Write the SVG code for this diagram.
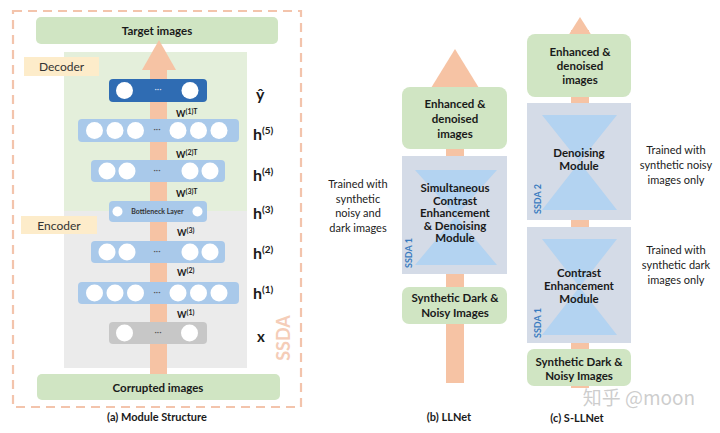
<svg xmlns="http://www.w3.org/2000/svg" width="720" height="433" viewBox="0 0 720 433">
<defs>
<style>
text{font-family:Lato,"Open Sans","Liberation Sans",sans-serif;fill:#1a1a1a}
.g{fill:#d0e5c3}
.lb{fill:#a9c9ea}
.c{fill:#ffffff}
.arr{fill:#f6c3a4}
.ss{fill:#d4dbe7}
.hg{fill:#b3d3f1}
.dots{font-size:9px;fill:#555;text-anchor:middle}
.w{font-size:9px;font-weight:bold}
.hl{font-size:16px;font-weight:bold}
.box{font-size:11.5px;font-weight:bold;text-anchor:middle}
.tr{font-size:11px;text-anchor:middle;fill:#222}
.cap{font-size:11px;font-weight:bold;text-anchor:middle}
.sv{font-size:9px;font-weight:bold;fill:#3a7cc0}
</style>
</defs>
<rect width="720" height="433" fill="#ffffff"/>

<!-- (a) Module Structure -->
<g id="panel-a">
<rect x="13" y="11" width="288" height="396" fill="none" stroke="#f3c4ac" stroke-width="2.2" stroke-dasharray="9 6"/>
<rect x="64" y="52" width="183" height="159" fill="#e4efdb"/>
<rect x="64" y="211" width="183" height="157" fill="#ebebeb"/>
<text x="290" y="338" transform="rotate(-90 290 338)" text-anchor="middle" style="font-size:18px;font-weight:bold;fill:#f5cdb8">SSDA</text>
</g>
<g id="target">
<rect class="g" x="36" y="17" width="242" height="27" rx="5"/>
<text class="box" x="157" y="35">Target images</text>
</g>
<g id="corrupted">
<rect class="g" x="37" y="374" width="243" height="26" rx="5"/>
<text class="box" x="158" y="391.5">Corrupted images</text>
</g>
<g id="decoder-label">
<rect x="24" y="57" width="75" height="19" fill="#fdecca"/>
<text x="61.5" y="71" text-anchor="middle" style="font-size:12px;fill:#333">Decoder</text>
</g>
<g id="encoder-label">
<rect x="21" y="216" width="76" height="18" fill="#fdecca"/>
<text x="59" y="229.5" text-anchor="middle" style="font-size:12px;fill:#333">Encoder</text>
</g>
<g id="connectors">
<rect class="arr" x="150" y="69" width="17" height="305"/>
<polygon class="arr" points="142,70 176,70 159,40"/>
<rect class="arr" x="446" y="86" width="18" height="297"/>
<polygon class="arr" points="431,88 479,88 455,49"/>
<rect class="arr" x="571" y="30" width="18" height="358"/>
<polygon class="arr" points="568,36 592,36 580,17"/>
</g>

<g id="layer-yhat">
<rect x="109" y="79" width="98" height="23" rx="4" fill="#2f6cb3"/>
<circle class="c" cx="124.5" cy="90.5" r="8.5"/><circle class="c" cx="190" cy="90.5" r="8.5"/>
<text class="dots" x="158" y="92" style="fill:#cfdcef">···</text>
</g>
<g id="layer-h5">
<rect class="lb" x="78" y="119" width="161" height="23" rx="4"/>
<circle class="c" cx="94.5" cy="130.5" r="8.5"/><circle class="c" cx="115" cy="130.5" r="8.5"/><circle class="c" cx="135.5" cy="130.5" r="8.5"/>
<circle class="c" cx="178" cy="130.5" r="8.5"/><circle class="c" cx="198.5" cy="130.5" r="8.5"/><circle class="c" cx="219" cy="130.5" r="8.5"/>
<text class="dots" x="157" y="132">···</text>
</g>
<g id="layer-h4">
<rect class="lb" x="91" y="160" width="134" height="22" rx="4"/>
<circle class="c" cx="107" cy="171" r="8.5"/><circle class="c" cx="127" cy="171" r="8.5"/>
<circle class="c" cx="190" cy="171" r="8.5"/><circle class="c" cx="210" cy="171" r="8.5"/>
<text class="dots" x="157" y="173">···</text>
</g>
<g id="layer-h3">
<rect class="lb" x="109" y="201" width="98" height="21" rx="4"/>
<circle class="c" cx="117.5" cy="211.5" r="5"/><circle class="c" cx="197.5" cy="211.5" r="5"/>
<text x="157.5" y="214" text-anchor="middle" style="font-size:7px;font-weight:bold;fill:#333">Bottleneck Layer</text>
</g>
<g id="layer-h2">
<rect class="lb" x="91" y="241" width="134" height="22" rx="4"/>
<circle class="c" cx="107" cy="252" r="8.5"/><circle class="c" cx="127" cy="252" r="8.5"/>
<circle class="c" cx="190" cy="252" r="8.5"/><circle class="c" cx="210" cy="252" r="8.5"/>
<text class="dots" x="157" y="254">···</text>
</g>
<g id="layer-h1">
<rect class="lb" x="78" y="282" width="161" height="22" rx="4"/>
<circle class="c" cx="94.5" cy="293" r="8.5"/><circle class="c" cx="115" cy="293" r="8.5"/><circle class="c" cx="135.5" cy="293" r="8.5"/>
<circle class="c" cx="178" cy="293" r="8.5"/><circle class="c" cx="198.5" cy="293" r="8.5"/><circle class="c" cx="219" cy="293" r="8.5"/>
<text class="dots" x="157" y="294.5">···</text>
</g>
<g id="layer-x">
<rect x="109" y="322" width="98" height="22" rx="4" fill="#c7c7c7"/>
<circle class="c" cx="124.5" cy="333" r="8.5"/><circle class="c" cx="189.5" cy="333" r="8.5"/>
<text class="dots" x="158" y="335">···</text>
</g>
<g id="weights">
<text class="w" x="176" y="117">W<tspan style="font-size:7px" dy="-3">(1)T</tspan></text>
<text class="w" x="176" y="158">W<tspan style="font-size:7px" dy="-3">(2)T</tspan></text>
<text class="w" x="176" y="196.5">W<tspan style="font-size:7px" dy="-3">(3)T</tspan></text>
<text class="w" x="177" y="236">W<tspan style="font-size:7px" dy="-3">(3)</tspan></text>
<text class="w" x="177" y="276">W<tspan style="font-size:7px" dy="-3">(2)</tspan></text>
<text class="w" x="177" y="318">W<tspan style="font-size:7px" dy="-3">(1)</tspan></text>
</g>
<g id="layer-labels">
<text class="hl" x="256" y="100">ŷ</text>
<text class="hl" x="253" y="140">h<tspan style="font-size:10px" dy="-6">(5)</tspan></text>
<text class="hl" x="253" y="181">h<tspan style="font-size:10px" dy="-6">(4)</tspan></text>
<text class="hl" x="253" y="219">h<tspan style="font-size:10px" dy="-6">(3)</tspan></text>
<text class="hl" x="253" y="259">h<tspan style="font-size:10px" dy="-6">(2)</tspan></text>
<text class="hl" x="253" y="299">h<tspan style="font-size:10px" dy="-6">(1)</tspan></text>
<text class="hl" x="257" y="342" style="font-size:15px">x</text>
</g>
<text class="cap" x="157" y="421">(a) Module Structure</text>

<!-- (b) LLNet -->
<g id="llnet-output">
<rect class="g" x="402" y="87" width="105" height="62" rx="8"/>
<text class="box" x="455" y="108">Enhanced &amp;</text>
<text class="box" x="455" y="123">denoised</text>
<text class="box" x="455" y="137.5">images</text>
</g>
<g id="llnet-ssda1">
<rect class="ss" x="402" y="156" width="105" height="118"/>
<polygon class="hg" points="415,170 497,170 456,216 497,265 415,265 456,216"/>
<text class="box" x="455" y="192">Simultaneous</text>
<text class="box" x="455" y="204.5">Contrast</text>
<text class="box" x="455" y="217">Enhancement</text>
<text class="box" x="455" y="229.5">&amp; Denoising</text>
<text class="box" x="455" y="242">Module</text>
<text class="sv" x="412" y="268" transform="rotate(-90 412 268)">SSDA 1</text>
</g>
<g id="llnet-input">
<rect class="g" x="402" y="287" width="105" height="37" rx="7"/>
<text class="box" x="455" y="302">Synthetic Dark &amp;</text>
<text class="box" x="455" y="317">Noisy Images</text>
</g>
<g id="llnet-note">
<text class="tr" x="358" y="188">Trained with</text>
<text class="tr" x="358" y="203">synthetic</text>
<text class="tr" x="358" y="217">noisy and</text>
<text class="tr" x="358" y="232">dark images</text>
</g>
<text class="cap" x="449" y="421">(b) LLNet</text>

<!-- (c) S-LLNet -->
<g id="sllnet-output">
<rect class="g" x="527" y="34" width="104" height="63" rx="8"/>
<text class="box" x="580" y="56">Enhanced &amp;</text>
<text class="box" x="580" y="70">denoised</text>
<text class="box" x="580" y="84">images</text>
</g>
<g id="sllnet-ssda2">
<rect class="ss" x="527" y="103" width="104" height="117"/>
<polygon class="hg" points="542,115 617,115 579.5,162 617,210 542,210 579.5,162"/>
<text class="box" x="579" y="157">Denoising</text>
<text class="box" x="579" y="170">Module</text>
<text class="sv" x="541" y="214" transform="rotate(-90 541 214)">SSDA 2</text>
</g>
<g id="sllnet-ssda1">
<rect class="ss" x="527" y="227" width="104" height="116"/>
<polygon class="hg" points="542,239 617,239 579.5,287 617,335 542,335 579.5,287"/>
<text class="box" x="579" y="277">Contrast</text>
<text class="box" x="579" y="290">Enhancement</text>
<text class="box" x="579" y="303">Module</text>
<text class="sv" x="541" y="338" transform="rotate(-90 541 338)">SSDA 1</text>
</g>
<g id="sllnet-input">
<rect class="g" x="527" y="349" width="104" height="37" rx="7"/>
<text class="box" x="579" y="366">Synthetic Dark &amp;</text>
<text class="box" x="579" y="379.5">Noisy Images</text>
</g>
<g id="sllnet-notes">
<text class="tr" x="676" y="154">Trained with</text>
<text class="tr" x="676" y="169">synthetic noisy</text>
<text class="tr" x="676" y="184">images only</text>
<text class="tr" x="676" y="254">Trained with</text>
<text class="tr" x="676" y="269">synthetic dark</text>
<text class="tr" x="676" y="284">images only</text>
</g>
<text class="cap" x="577" y="422">(c) S-LLNet</text>
<text x="639" y="405" text-anchor="middle" style="font-family:'Noto Sans CJK SC','Liberation Sans',sans-serif;font-size:19px;fill:#bdbdbd;fill-opacity:0.75">知乎 @moon</text>
</svg>
